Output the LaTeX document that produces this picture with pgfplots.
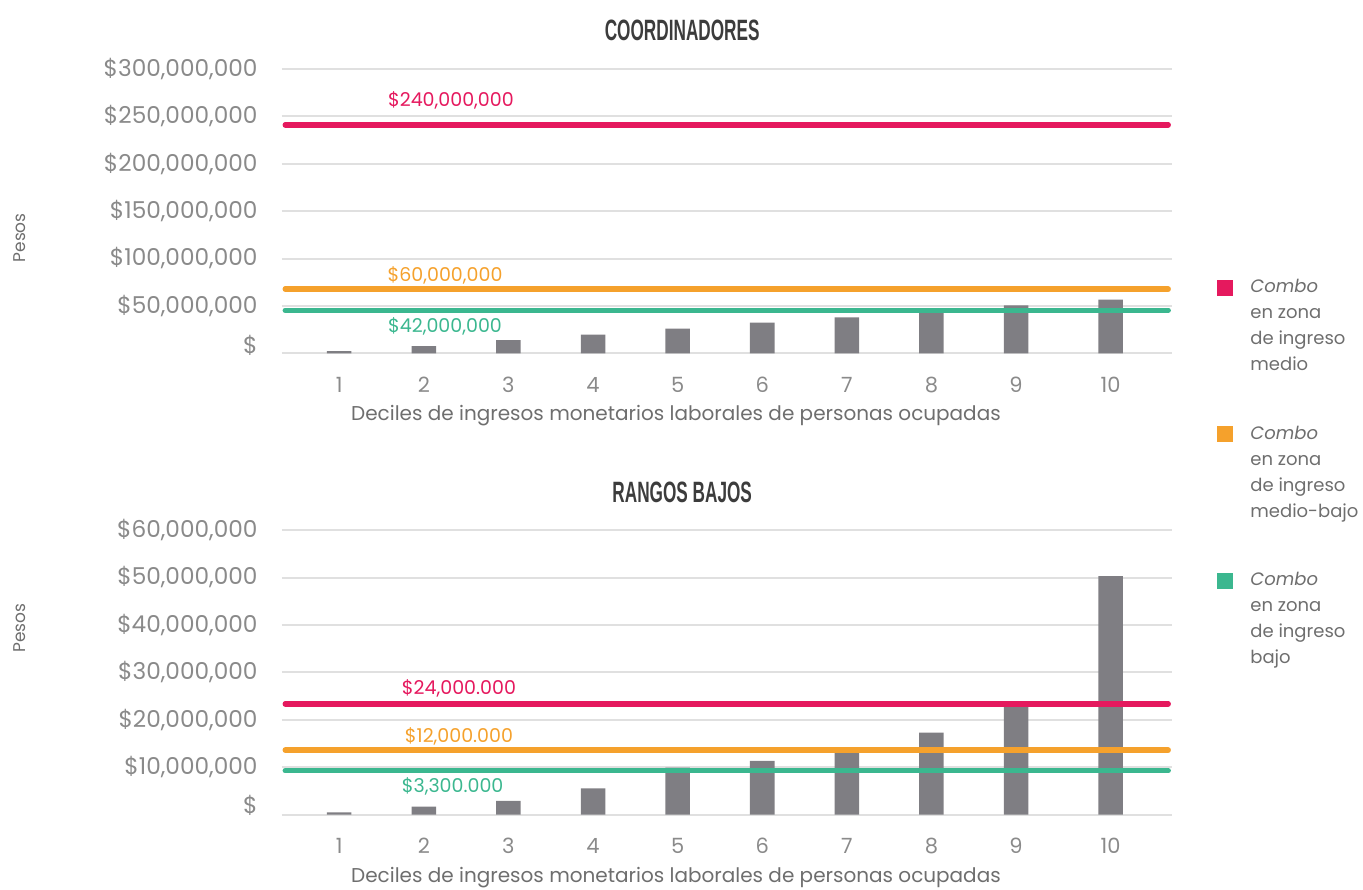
\documentclass[border=0pt]{standalone}
\usepackage{fontspec}
\setmainfont{Poppins}
\newfontfamily\titlefont[FakeStretch=0.585]{Liberation Sans}
\usepackage{pgfplots}
\pgfplotsset{compat=1.18}
\definecolor{pinkc}{HTML}{E5195E}
\definecolor{orangec}{HTML}{F5A12C}
\definecolor{greenc}{HTML}{3BB78F}
\definecolor{barc}{HTML}{7F7E83}
\definecolor{gridc}{HTML}{E0E0E0}
\definecolor{tickc}{HTML}{8A8A8A}
\definecolor{labc}{HTML}{6E6E6E}
\definecolor{titlec}{HTML}{3C3C3C}
\pgfplotsset{
  base/.style={
    scale only axis, width=445bp, height=142.2bp,
    xmin=0.32, xmax=10.84,
    xtick={1,2,3,4,5,6,7,8,9,10.117},
    xticklabels={1,2,3,4,5,6,7,8,9,10},
    axis line style={draw=none},
    tick style={draw=none},
    ymajorgrids, grid style={line width=1bp, color=gridc},
    clip=false,
    tick label style={text=tickc},
    xticklabel style={anchor=center, yshift=-15.8bp, font=\fontsize{10.5bp}{12bp}\selectfont},
    yticklabel style={anchor=east, inner sep=0pt, xshift=-11.9bp, font=\fontsize{11.6bp}{13bp}\selectfont},
    xlabel={Deciles de ingresos monetarios laborales de personas ocupadas},
    xlabel style={at={(axis description cs:0.443,0)}, anchor=center, font=\fontsize{10bp}{12bp}\selectfont, text=labc},
    title style={anchor=center, text=titlec, font={\titlefont\bfseries\fontsize{14.7bp}{16bp}\selectfont}},
  },
  barsty/.style={ybar, bar width=0.29, bar shift=0pt, fill=barc, draw=none, forget plot},
  linesty/.style={line width=2.7bp, line cap=round},
}
\begin{document}
\begin{tikzpicture}
\path[use as bounding box] (-140.85bp,-268.35bp) rectangle (540.65bp,176.65bp);
% ---------------- top axis
\begin{axis}[base, at={(0bp,0bp)}, anchor=south west,
  ymin=0, ymax=300,
  ytick={50,100,150,200,250,300},
  yticklabels={{\$50,000,000},{\$100,000,000},{\$150,000,000},{\$200,000,000},{\$250,000,000},{\$300,000,000}},
  extra y ticks={0}, extra y tick labels={\$},
  extra y tick style={grid=major, yticklabel style={yshift=4.2bp}},
  xlabel style={yshift=-31.35bp},
  title={COORDINADORES}, title style={at={(0.45,1.095)}},
  legend cell align=left,
  legend style={at={(1.0509,0.261)}, anchor=north west, draw=none, fill=none, inner sep=0pt,
    row sep=26bp, font=\fontsize{9bp}{13bp}\selectfont, text=labc,
    nodes={align=left, inner sep=0pt},
    /tikz/every odd column/.append style={column sep=8.5bp}},
  legend image code/.code={\fill[#1, draw=none] (0bp,15.3bp) rectangle (8bp,23.3bp);},
]
\addplot[barsty] coordinates {(1,2.4) (2,7.7) (3,14.0) (4,19.6) (5,26.0) (6,32.3) (7,38.0) (8,44.5) (9,50.6) (10.117,56.6)};
\addplot[linesty, color=pinkc, fill=pinkc] coordinates {(0.362,241) (10.799,241)};
\addlegendentry{\textit{Combo}\\en zona\\de ingreso\\medio}
\addplot[linesty, color=orangec, fill=orangec] coordinates {(0.362,67.8) (10.799,67.8)};
\addlegendentry{\textit{Combo}\\en zona\\de ingreso\\medio-bajo}
\addplot[linesty, color=greenc, fill=greenc] coordinates {(0.362,45.4) (10.799,45.4)};
\addlegendentry{\textit{Combo}\\en zona\\de ingreso\\bajo}
\node[text=pinkc, font=\fontsize{9.5bp}{11bp}\selectfont] at (axis cs:2.32,267.3) {\$240,000,000};
\node[text=orangec, font=\fontsize{9.5bp}{11bp}\selectfont] at (axis cs:2.25,82.6) {\$60,000,000};
\node[text=greenc, font=\fontsize{9.5bp}{11bp}\selectfont] at (axis cs:2.25,28.8) {\$42,000,000};
\node[rotate=90, text=labc, font=\fontsize{8.5bp}{10bp}\selectfont] at (rel axis cs:-0.294,0.406) {Pesos};
\end{axis}
% ---------------- bottom axis
\begin{axis}[base, at={(0bp,-230.6bp)}, anchor=south west,
  ymin=0, ymax=60,
  ytick={10,20,30,40,50,60},
  yticklabels={{\$10,000,000},{\$20,000,000},{\$30,000,000},{\$40,000,000},{\$50,000,000},{\$60,000,000}},
  extra y ticks={0}, extra y tick labels={\$},
  extra y tick style={grid=major, yticklabel style={yshift=4.75bp}},
  xlabel style={yshift=-31.75bp},
  title={RANGOS BAJOS}, title style={at={(0.45,1.092)}},
]
\addplot[barsty] coordinates {(1,0.46) (2,1.64) (3,2.85) (4,5.5) (5,9.9) (6,11.3) (7,13.6) (8,17.25) (9,23.1) (10.117,50.3)};
\addplot[linesty, color=pinkc] coordinates {(0.362,23.35) (10.799,23.35)};
\addplot[linesty, color=orangec] coordinates {(0.362,13.6) (10.799,13.6)};
\addplot[linesty, color=greenc] coordinates {(0.362,9.24) (10.799,9.24)};
\node[text=pinkc, font=\fontsize{9.5bp}{11bp}\selectfont] at (axis cs:2.415,26.7) {\$24,000.000};
\node[text=orangec, font=\fontsize{9.5bp}{11bp}\selectfont] at (axis cs:2.415,16.55) {\$12,000.000};
\node[text=greenc, font=\fontsize{9.5bp}{11bp}\selectfont] at (axis cs:2.34,6.0) {\$3,300.000};
\node[rotate=90, text=labc, font=\fontsize{8.5bp}{10bp}\selectfont] at (rel axis cs:-0.294,0.656) {Pesos};
\end{axis}
\end{tikzpicture}
\end{document}
